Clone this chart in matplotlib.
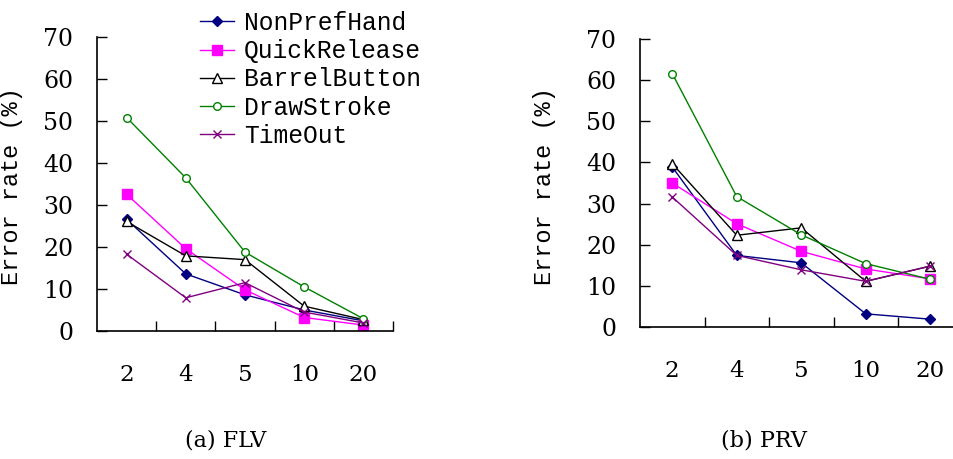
import numpy as np
import matplotlib
matplotlib.use("Agg")
import matplotlib.pyplot as plt

# ---------------------- DATA ---------------------- #
CATEGORIES = ["2", "4", "5", "10", "20"]
SERIES = ["NonPrefHand", "QuickRelease", "BarrelButton", "DrawStroke", "TimeOut"]

flv_nonpref = [26.5, 13.5, 8.5, 4.9, 2.3]
flv_quick = [32.5, 19.5, 9.7, 3.1, 1.3]
flv_barrel = [26.0, 17.8, 16.9, 5.8, 2.6]
flv_draw = [50.8, 36.4, 18.7, 10.4, 2.8]
flv_timeout = [18.2, 7.8, 11.4, 4.4, 1.8]

prv_nonpref = [38.9, 17.4, 15.6, 3.2, 1.9]
prv_quick = [35.0, 25.1, 18.4, 14.1, 11.7]
prv_barrel = [39.7, 22.3, 24.1, 11.1, 14.8]
prv_draw = [61.6, 31.7, 22.4, 15.4, 11.6]
prv_timeout = [31.6, 17.4, 13.9, 11.1, 14.8]

CAPTIONS = ["(a) FLV", "(b) PRV"]

# ---------------------- STYLE ---------------------- #
STYLES = [
    dict(color="#000080", marker="D", ms=5, mfc="#000080", mec="#000080"),
    dict(color="#FF00FF", marker="s", ms=6.5, mfc="#FF00FF", mec="#FF00FF"),
    dict(color="#000000", marker="^", ms=6.5, mfc="white", mec="#000000"),
    dict(color="#008000", marker="o", ms=5.5, mfc="white", mec="#008000"),
    dict(color="#800080", marker="x", ms=5.5, mfc="#800080", mec="#800080"),
]
MONO = "Liberation Mono"
SERIF = "DejaVu Serif"
W, H = 954, 459


def setup_axes(ax, ylabel_x):
    n = len(CATEGORIES)
    ax.set_xlim(-0.5, n - 0.5)
    ax.set_ylim(0, 70)
    ax.set_yticks(np.arange(0, 71, 10))
    ax.set_yticklabels([str(v) for v in range(0, 71, 10)], fontfamily=SERIF, fontsize=17)
    ax.set_xticks(np.arange(n) + 0.5)
    ax.set_xticklabels([])
    ax.set_xticks(np.arange(n), minor=True)
    ax.set_xticklabels(CATEGORIES, minor=True, fontfamily=SERIF, fontsize=16.5)
    ax.tick_params(axis="x", which="major", direction="in", length=7, width=1)
    ax.tick_params(axis="x", which="minor", length=0, pad=24)
    ax.tick_params(axis="y", direction="in", length=7, width=1, pad=17)
    for s in ["top", "right"]:
        ax.spines[s].set_visible(False)
    for s in ["left", "bottom"]:
        ax.spines[s].set_linewidth(1.2)
    ax.set_ylabel("Error rate (%)", fontfamily=MONO, fontsize=17)
    ax.yaxis.set_label_coords(ylabel_x / W, 1 - 186 / H, transform=ax.figure.transFigure)


fig = plt.figure(figsize=(W / 100, H / 100), dpi=100)
ax1 = fig.add_axes([97 / W, 1 - 330.5 / H, 296 / W, 293.5 / H])
ax2 = fig.add_axes([640 / W, 1 - 327 / H, 322.5 / W, 288 / H])

x = np.arange(len(CATEGORIES))
flv = [flv_nonpref, flv_quick, flv_barrel, flv_draw, flv_timeout]
prv = [prv_nonpref, prv_quick, prv_barrel, prv_draw, prv_timeout]

handles = []
for name, vals, st in zip(SERIES, flv, STYLES):
    h, = ax1.plot(x, vals, lw=1, label=name, **st)
    handles.append(h)
for name, vals, st in zip(SERIES, prv, STYLES):
    ax2.plot(x, vals, lw=1, label=name, **st)

setup_axes(ax1, 23)
setup_axes(ax2, 556)

fig.legend(handles, SERIES, loc="upper left", bbox_to_anchor=(200 / W, 1 - 11 / H),
           frameon=False, prop=dict(family=MONO, size=17.7), handlelength=1.4,
           handletextpad=0.4, labelspacing=0.17, borderpad=0, borderaxespad=0)

fig.text(226 / W, 1 - 441 / H, CAPTIONS[0], ha="center", va="center", fontfamily=SERIF, fontsize=16)
fig.text(764 / W, 1 - 441 / H, CAPTIONS[1], ha="center", va="center", fontfamily=SERIF, fontsize=16)

plt.savefig("out.png", dpi=100)
